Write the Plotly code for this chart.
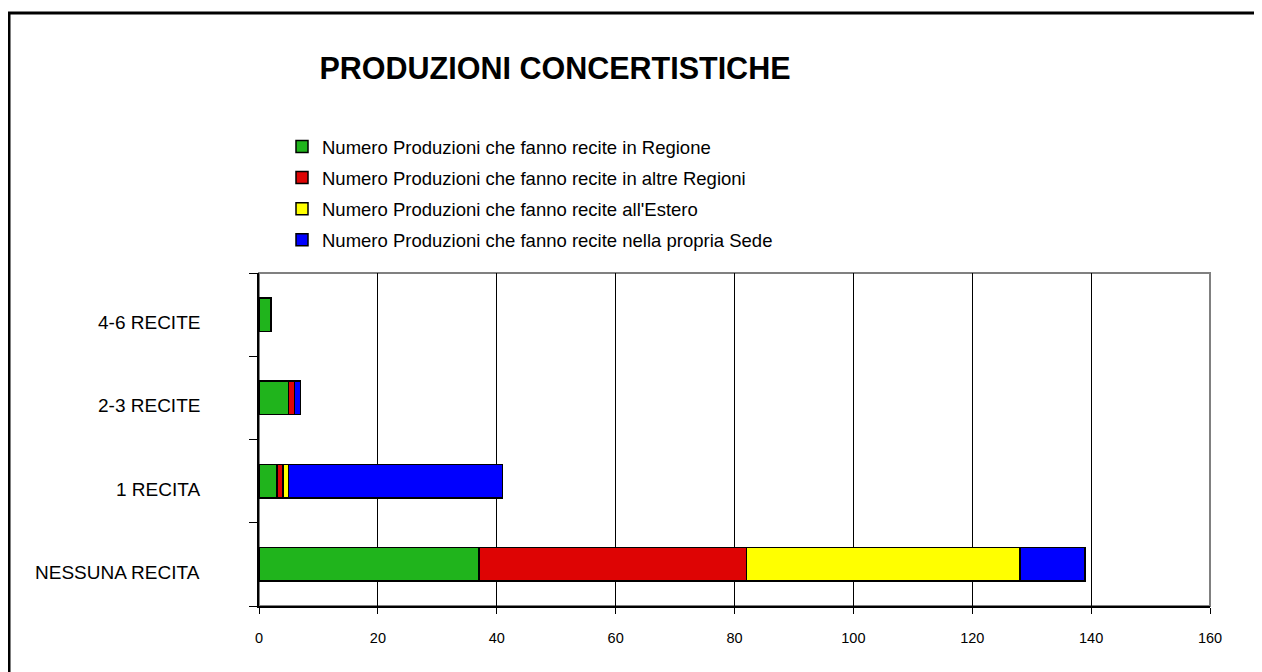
import plotly.graph_objects as go

categories = ["NESSUNA RECITA", "1 RECITA", "2-3 RECITE", "4-6 RECITE"]
regione = [37, 3, 5, 2]
altre_regioni = [45, 1, 1, 0]
estero = [46, 1, 0, 0]
sede = [11, 36, 1, 0]

series_names = [
    "Numero Produzioni che fanno recite in Regione",
    "Numero Produzioni che fanno recite in altre Regioni",
    "Numero Produzioni che fanno recite all'Estero",
    "Numero Produzioni che fanno recite nella propria Sede",
]
series_values = [regione, altre_regioni, estero, sede]
series_colors = ["#20B41C", "#DE0404", "#FFFF00", "#0000FF"]

W, H = 1262, 672
OFF = 8  # page body margin
L, R, T, B = 259 - OFF, 1210 - OFF, 273 - OFF, 606 - OFF  # plot area in pixels


def px_x(p):
    return (p - OFF - L) / (R - L)


def px_y(p):
    return (B - (p - OFF)) / (B - T)


FONT = "Liberation Sans, Arial, sans-serif"

fig = go.Figure()
for i, (name, vals, col) in enumerate(zip(series_names, series_values, series_colors)):
    fig.add_trace(go.Bar(
        y=categories, x=vals, name=name, orientation="h",
        marker=dict(color=col, line=dict(color="black", width=1.5)),
        legendgroup=f"g{i}",
    ))

# y labels as annotations (slightly below category centre like reference)
for c in categories:
    fig.add_annotation(x=0, xref="paper", y=c, yref="y", text=c, showarrow=False,
                       xanchor="right", xshift=-57, yshift=-8,
                       font=dict(family=FONT, size=19, color="black"))

fig.update_layout(
    width=W, height=H,
    margin=dict(l=L, r=W - R, t=T, b=H - B),
    paper_bgcolor="white", plot_bgcolor="white",
    barmode="stack", bargap=0.6,
    font=dict(family=FONT, color="black"),
    title=dict(text="<b>PRODUZIONI CONCERTISTICHE</b>", x=(555 - OFF) / W, xanchor="center",
               y=1 - (68 - OFF) / H, yanchor="middle", xref="container", yref="container",
               font=dict(family=FONT, size=30.5, color="black")),
    showlegend=True,
    legend=dict(x=px_x(282), y=px_y(128), xanchor="left", yanchor="top",
                traceorder="grouped", tracegroupgap=4, bgcolor="rgba(0,0,0,0)",
                font=dict(family=FONT, size=18.5, color="black")),
    xaxis=dict(range=[0, 160], dtick=20, tick0=0, showgrid=True, gridcolor="black",
               gridwidth=1, showline=True, linecolor="black", linewidth=1.5,
               ticks="outside", ticklen=6, tickcolor="black", ticklabelstandoff=12,
               tickfont=dict(family=FONT, size=14.5, color="black"), zeroline=False,
               fixedrange=True),
    yaxis=dict(categoryorder="array", categoryarray=categories, showgrid=False,
               showline=True, linecolor="black", linewidth=1.5, ticks="outside",
               tickson="boundaries", ticklen=8, tickcolor="black", showticklabels=False,
               zeroline=False, fixedrange=True),
    shapes=[
        dict(type="rect", xref="paper", yref="paper", x0=0, x1=1, y0=0, y1=1,
             line=dict(color="#808080", width=2), layer="below"),
        dict(type="rect", xref="paper", yref="paper", x0=px_x(9), x1=px_x(1320),
             y0=px_y(720), y1=px_y(13), line=dict(color="black", width=3), layer="below"),
    ],
)

fig.write_html("out.html")
